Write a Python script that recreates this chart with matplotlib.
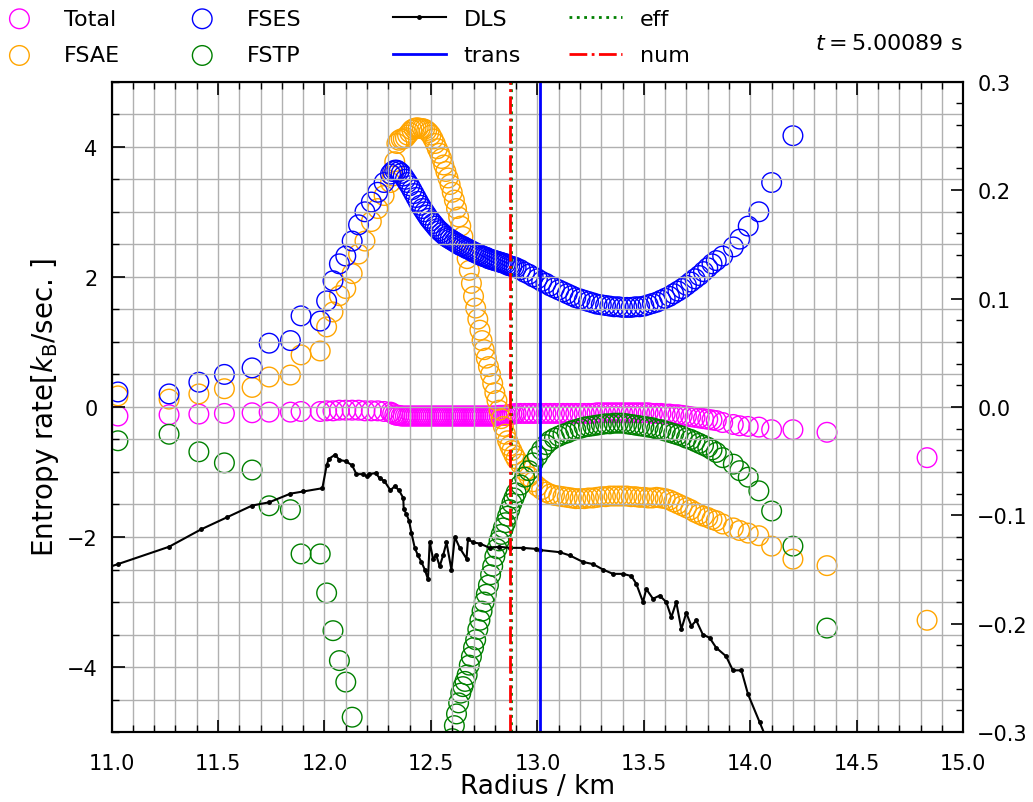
import numpy as np
import matplotlib.pyplot as plt
from matplotlib.ticker import MultipleLocator

nan = np.nan

# radius grid shared by the four entropy-rate terms (km)
radius = [11.03, 11.27, 11.41, 11.53, 11.66, 11.74, 11.84, 11.89, 11.98, 12.01,
          12.04, 12.07, 12.10, 12.13, 12.16, 12.19, 12.22, 12.25, 12.28, 12.31,
          12.32, 12.33, 12.34, 12.35, 12.36, 12.37, 12.38, 12.39, 12.40, 12.41,
          12.42, 12.43, 12.44, 12.45, 12.46, 12.47, 12.48, 12.49, 12.50, 12.51,
          12.52, 12.53, 12.54, 12.55, 12.56, 12.57, 12.58, 12.59, 12.60, 12.61,
          12.62, 12.63, 12.64, 12.65, 12.66, 12.67, 12.68, 12.69, 12.70, 12.71,
          12.72, 12.73, 12.74, 12.75, 12.76, 12.77, 12.78, 12.79, 12.80, 12.81,
          12.82, 12.83, 12.84, 12.85, 12.86, 12.87, 12.88, 12.89, 12.90,
          12.92, 12.94, 12.96, 12.98, 13.00, 13.02, 13.04, 13.06, 13.08, 13.10,
          13.12, 13.14, 13.16, 13.18, 13.20, 13.22, 13.24, 13.26, 13.28, 13.30,
          13.32, 13.34, 13.36, 13.38, 13.40, 13.42, 13.44, 13.46, 13.48, 13.50,
          13.52, 13.54, 13.56, 13.58, 13.60, 13.62, 13.64, 13.66, 13.68, 13.70,
          13.72, 13.74, 13.76, 13.78, 13.80, 13.82, 13.84,
          13.87, 13.92, 13.95, 13.99, 14.04, 14.10, 14.20, 14.36, 14.83]

total = [-0.14, -0.12, -0.11, -0.10, -0.09, -0.08, -0.08, -0.07, -0.07, -0.06,
         -0.06, -0.05, -0.05, -0.05, -0.05, -0.06, -0.06, -0.06, -0.07, -0.08,
         -0.10, -0.12, -0.13, -0.13, -0.14, -0.14, -0.14, -0.14, -0.14, -0.14,
         -0.14, -0.14, -0.14, -0.14, -0.14, -0.14, -0.14, -0.14, -0.14, -0.14,
         -0.14, -0.14, -0.14, -0.14, -0.14, -0.14, -0.14, -0.14, -0.14, -0.14,
         -0.14, -0.14, -0.14, -0.14, -0.14, -0.14, -0.14, -0.14, -0.14, -0.14,
         -0.14, -0.14, -0.14, -0.14, -0.14, -0.14, -0.14, -0.14, -0.14, -0.14,
         -0.13, -0.13, -0.13, -0.13, -0.12, -0.12, -0.11, -0.11, -0.10,
         -0.10, -0.10, -0.10, -0.10, -0.10, -0.10, -0.10, -0.10, -0.10, -0.10,
         -0.10, -0.10, -0.10, -0.10, -0.10, -0.10, -0.10, -0.10, -0.09, -0.09,
         -0.09, -0.09, -0.09, -0.09, -0.09, -0.09, -0.09, -0.09, -0.09, -0.09,
         -0.09, -0.10, -0.10, -0.10, -0.11, -0.11, -0.12, -0.12, -0.13, -0.14,
         -0.15, -0.16, -0.17, -0.18, -0.19, -0.20, -0.21,
         -0.24, -0.27, -0.29, -0.30, -0.31, -0.35, -0.35, -0.39, -0.78]

fsae = [0.17, 0.12, 0.20, 0.28, 0.30, 0.46, 0.49, 0.80, 0.86, 1.23,
        1.46, 1.71, 1.82, 2.05, 2.35, 2.55, 2.85, 3.05, 3.25, 3.45,
        3.55, 3.77, 4.05, 4.10, 4.12, 4.12, 4.14, 4.18, 4.22, 4.26,
        4.28, 4.29, 4.29, 4.28, 4.28, 4.27, 4.25, 4.22, 4.18, 4.12,
        4.05, 3.97, 3.90, 3.82, 3.72, 3.62, 3.52, 3.42, 3.30, 3.18,
        3.05, 2.92, 2.78, 2.62, 2.45, 2.28, 2.10, 1.90, 1.70, 1.52,
        1.35, 1.18, 1.02, 0.88, 0.75, 0.62, 0.50, 0.36, 0.22, 0.10,
        -0.05, -0.18, -0.30, -0.42, -0.52, -0.60, -0.67, -0.74, -0.80,
        -0.88, -0.98, -1.07, -1.15, -1.22, -1.27, -1.31, -1.34, -1.36, -1.37,
        -1.38, -1.39, -1.40, -1.41, -1.41, -1.41, -1.40, -1.40, -1.39, -1.38,
        -1.38, -1.37, -1.37, -1.37, -1.37, -1.37, -1.38, -1.38, -1.39, -1.39,
        -1.40, -1.40, -1.39, -1.40, -1.41, -1.43, -1.46, -1.49, -1.52, -1.55,
        -1.58, -1.62, -1.65, -1.68, -1.70, -1.73, -1.75,
        -1.80, -1.86, -1.90, -1.94, -1.98, -2.14, -2.34, -2.44, -3.28]

fses = [0.23, 0.20, 0.38, 0.50, 0.60, 0.98, 1.02, 1.40, 1.32, 1.63,
        1.94, 2.20, 2.32, 2.55, 2.80, 3.00, 3.15, 3.30, 3.45, 3.58,
        3.62, 3.64, 3.64, 3.62, 3.59, 3.55, 3.50, 3.45, 3.40, 3.34,
        3.28, 3.22, 3.16, 3.10, 3.05, 3.00, 2.95, 2.90, 2.86, 2.82,
        2.78, 2.74, 2.71, 2.68, 2.65, 2.62, 2.60, 2.58, 2.56, 2.54,
        2.52, 2.50, 2.48, 2.47, 2.45, 2.43, 2.42, 2.40, 2.38, 2.37,
        2.35, 2.34, 2.32, 2.31, 2.30, 2.28, 2.27, 2.26, 2.25, 2.24,
        2.23, 2.22, 2.21, 2.20, 2.18, 2.17, 2.16, 2.15, 2.14,
        2.11, 2.07, 2.04, 2.00, 1.97, 1.93, 1.90, 1.86, 1.83, 1.80,
        1.77, 1.74, 1.71, 1.68, 1.66, 1.64, 1.62, 1.60, 1.58, 1.57,
        1.56, 1.55, 1.54, 1.54, 1.53, 1.53, 1.53, 1.54, 1.54, 1.55,
        1.57, 1.59, 1.61, 1.64, 1.67, 1.70, 1.74, 1.78, 1.82, 1.87,
        1.92, 1.97, 2.02, 2.08, 2.14, 2.20, 2.25,
        2.32, 2.46, 2.58, 2.78, 3.00, 3.45, 4.17, nan, nan]

fstp = [-0.52, -0.42, -0.69, -0.86, -0.97, -1.52, -1.58, -2.26, -2.26, -2.86,
        -3.44, -3.90, -4.23, -4.77, nan, nan, nan, nan, nan, nan,
        nan, nan, nan, nan, nan, nan, nan, nan, nan, nan,
        nan, nan, nan, nan, nan, nan, nan, nan, nan, nan,
        nan, nan, nan, nan, nan, nan, nan, nan, -5.10, -4.90,
        -4.72, -4.55, -4.40, -4.30, -4.22, -4.12, -3.97, -3.84, -3.70, -3.58,
        -3.42, -3.28, -3.14, -3.00, -2.88, -2.74, -2.58, -2.45, -2.30, -2.18,
        -2.06, -1.96, -1.86, -1.78, -1.68, -1.58, -1.48, -1.40, -1.32,
        -1.20, -1.08, -0.98, -0.86, -0.76, -0.66, -0.58, -0.52, -0.48, -0.45,
        -0.42, -0.40, -0.37, -0.35, -0.33, -0.31, -0.30, -0.29, -0.28, -0.27,
        -0.26, -0.26, -0.25, -0.25, -0.25, -0.26, -0.27, -0.28, -0.29, -0.30,
        -0.31, -0.32, -0.34, -0.35, -0.37, -0.39, -0.41, -0.43, -0.45, -0.48,
        -0.50, -0.53, -0.56, -0.59, -0.62, -0.66, -0.70,
        -0.78, -0.88, -0.98, -1.08, -1.29, -1.60, -2.14, -3.40, nan]

# DLS on the right-hand axis
dls_radius = [10.80, 11.03, 11.27, 11.42, 11.54, 11.66, 11.74, 11.84, 11.90, 11.99,
              12.01, 12.02, 12.05, 12.07, 12.10, 12.13, 12.15, 12.18, 12.20, 12.21,
              12.24, 12.26, 12.28, 12.31, 12.33, 12.35, 12.37, 12.372, 12.385, 12.397,
              12.408, 12.424, 12.439, 12.455, 12.471, 12.486, 12.494, 12.510, 12.525, 12.541,
              12.557, 12.573, 12.596, 12.612, 12.635, 12.667, 12.674, 12.698, 12.729, 12.776,
              12.82, 12.87, 12.93, 12.995, 13.011, 13.105, 13.152, 13.214, 13.261, 13.308,
              13.355, 13.402, 13.441, 13.464, 13.496, 13.511, 13.543, 13.574, 13.605, 13.629,
              13.652, 13.676, 13.699, 13.723, 13.746, 13.777, 13.809, 13.839, 13.886, 13.918,
              13.958, 13.989, 14.044, 14.105]
dls = [-0.160, -0.145, -0.129, -0.113, -0.102, -0.091, -0.088, -0.080, -0.078, -0.075,
       -0.054, -0.048, -0.044, -0.049, -0.050, -0.054, -0.062, -0.062, -0.064, -0.062,
       -0.061, -0.066, -0.068, -0.077, -0.073, -0.077, -0.084, -0.094, -0.099, -0.105,
       -0.116, -0.130, -0.137, -0.143, -0.150, -0.159, -0.125, -0.140, -0.137, -0.147,
       -0.137, -0.125, -0.150, -0.120, -0.130, -0.140, -0.122, -0.125, -0.126, -0.130,
       -0.129, -0.130, -0.130, -0.131, -0.132, -0.134, -0.137, -0.143, -0.145, -0.150,
       -0.154, -0.154, -0.156, -0.163, -0.180, -0.168, -0.177, -0.174, -0.180, -0.194,
       -0.180, -0.205, -0.190, -0.202, -0.197, -0.210, -0.213, -0.222, -0.230, -0.243,
       -0.243, -0.265, -0.291, -0.320]

r_trans = 13.01
r_eff = 12.875
r_num = 12.87
time_s = 5.00089

fig = plt.figure(figsize=(10.33, 8.03), dpi=100)
ax = fig.add_axes([0.108, 0.087, 0.8245, 0.81])
ax2 = ax.twinx()

for vals, col, lab in [(total, 'magenta', 'Total'), (fsae, 'orange', 'FSAE'),
                       (fses, 'blue', 'FSES'), (fstp, 'green', 'FSTP')]:
    ax.scatter(radius, vals, s=200, facecolors='none', edgecolors=col,
               linewidths=1, label=lab)

ax2.plot(dls_radius, dls, 'k.-', ms=5, lw=1.5, label='DLS')
ax2.axvline(r_trans, color='blue', lw=2, label='trans')
ax2.axvline(r_eff, color='green', ls=':', lw=2, label='eff')
ax2.axvline(r_num, color='red', ls='-.', lw=2, label='num')

ax.set_xlim(11, 15)
ax.set_ylim(-5, 5)
ax2.set_ylim(-0.3, 0.3)

ax.xaxis.set_major_locator(MultipleLocator(0.5))
ax.xaxis.set_minor_locator(MultipleLocator(0.1))
ax.yaxis.set_major_locator(MultipleLocator(2))
ax.yaxis.set_minor_locator(MultipleLocator(0.5))
ax2.yaxis.set_major_locator(MultipleLocator(0.1))
ax2.yaxis.set_minor_locator(MultipleLocator(0.02))

ax.tick_params(which='both', direction='in', top=True, right=False,
               labelsize=15, pad=10)
ax.tick_params(axis='x', which='both', pad=15)
ax.tick_params(which='major', length=9, width=1.2)
ax.tick_params(which='minor', length=5, width=1)
ax2.tick_params(which='both', direction='in', labelsize=15, pad=10)
ax2.tick_params(which='major', length=9, width=1.2)
ax2.tick_params(which='minor', length=5, width=1)
ax.grid(which='both', color='#b0b0b0', lw=1)
for a in (ax, ax2):
    for sp in a.spines.values():
        sp.set_linewidth(1.5)

ax.set_xlabel('Radius / km', fontsize=19, labelpad=0)
ax.set_ylabel(r'Entropy rate[$k_{\rm B}$/sec. ]', fontsize=20)

h1, l1 = ax.get_legend_handles_labels()
h2, l2 = ax2.get_legend_handles_labels()
kw = dict(ncol=2, loc='upper left', frameon=False, fontsize=16, handlelength=2.4,
          labelspacing=0.75, borderpad=0, borderaxespad=0)
fig.legend(h1, l1, bbox_to_anchor=(-0.007, 0.988), columnspacing=2.5, **kw)
fig.legend(h2, l2, bbox_to_anchor=(0.380, 0.988), columnspacing=2.15, **kw)

fig.text(0.932, 1 - 44 / 803, r'$t = %.5f$ s' % time_s, ha='right', va='center',
         fontsize=16)

fig.savefig('out.png', dpi=100)
